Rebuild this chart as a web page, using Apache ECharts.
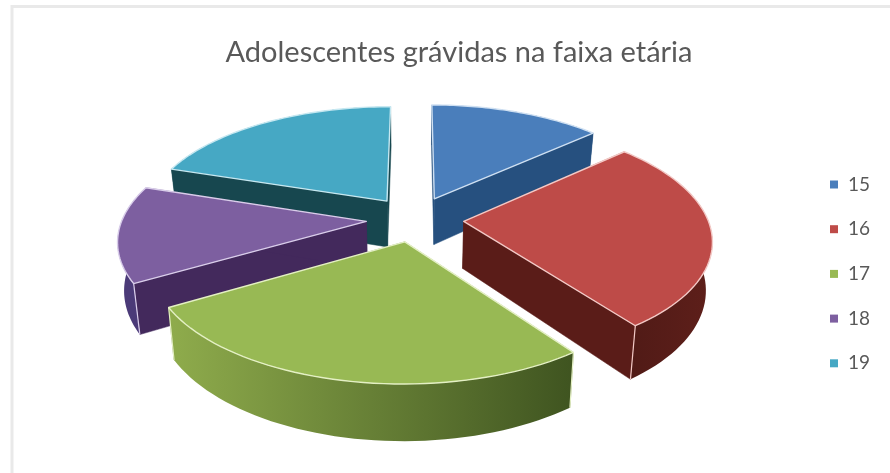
<!DOCTYPE html>
<html>
<head>
<meta charset="utf-8">
<style>html,body{margin:0;padding:0;background:#fff}#chart{width:890px;height:473px}</style>
<script src="https://cdn.jsdelivr.net/npm/echarts@6/dist/echarts.min.js"></script>
</head>
<body>
<div id="chart"></div>
<script>
// Age groups and their share of pregnant adolescents (%)
const ages = ['15', '16', '17', '18', '19'];
const shares = [13.3, 26.6, 26.7, 13.4, 20.0];

const topColors = ['#4a7ebb', '#be4b48', '#98b954', '#7d5fa0', '#46a8c4'];
const wallColors = ['#26507f', '#5a1c18', '#4a5f26', '#43295c', '#17474f'];
const arcColors = [
  ['#26507f', '#26507f'],
  ['#4f1a16', '#5e1f1a'],
  ['#8fac4c', '#3f5420'],
  ['#4b3a78', '#4b3a78'],
  ['#17474f', '#17474f']
];
const edgeColors = ['#cfe0f2', '#f3c9c6', '#e4f0c4', '#d9cdea', '#c6e8f1'];
// Paint order, from the back of the pie to the front
const paintOrder = { '15': 2, '19': 3, '16': 4, '18': 5, '17': 6 };

// Tilted pie projection: plane units are pie radii, nearer points scale up
const view = { cx: 415, cy: 219, scaleX: 244, scaleY: 113.4, persp: 0.149, depth: 47, shrink: 0.978, explode: 0.2 };

function project(X, Y, lowered) {
  const w = 1 - view.persp * Y;
  const sx = view.scaleX * X / w;
  const sy = view.scaleY * Y / w;
  if (lowered) return [view.cx + sx * view.shrink, view.cy + sy + view.depth / w];
  return [view.cx + sx, view.cy + sy];
}

const total = shares.reduce((a, b) => a + b, 0);
const spans = [];
shares.reduce((start, v) => {
  const end = start + v / total * Math.PI * 2;
  spans.push([start, end]);
  return end;
}, 0);

function sliceShapes(i) {
  const [a0, a1] = spans[i];
  const mid = (a0 + a1) / 2;
  const ox = view.explode * Math.sin(mid);
  const oy = -view.explode * Math.cos(mid);
  const steps = 48;
  const rim = [];
  for (let k = 0; k <= steps; k++) {
    const a = a0 + (a1 - a0) * k / steps;
    rim.push([ox + Math.sin(a), oy - Math.cos(a)]);
  }
  const topRim = rim.map(p => project(p[0], p[1], false));
  const lowRim = rim.map(p => project(p[0], p[1], true));
  const apexTop = project(ox, oy, false);
  const apexLow = project(ox, oy, true);
  const edge = edgeColors[i];
  const poly = (points, style, extra) => Object.assign({ type: 'polygon', shape: { points }, style }, extra || {});
  const wall = (t, l) => poly([apexTop, t, l, apexLow], { fill: wallColors[i], stroke: wallColors[i], lineWidth: 0.5 });
  const children = [
    wall(topRim[0], lowRim[0]),
    wall(topRim[steps], lowRim[steps]),
    poly(topRim.concat(lowRim.slice().reverse()), {
      fill: new echarts.graphic.LinearGradient(0, 0, 1, 0, [
        { offset: 0, color: arcColors[i][0] },
        { offset: 1, color: arcColors[i][1] }
      ])
    })
  ];
  // Vertical highlights on the corners facing the viewer
  [0, steps].forEach(k => {
    if (rim[k][1] > oy) {
      children.push({ type: 'line', shape: { x1: topRim[k][0], y1: topRim[k][1], x2: lowRim[k][0], y2: lowRim[k][1] }, style: { stroke: edge, lineWidth: 1.2 } });
    }
  });
  children.push(poly([apexTop].concat(topRim), { fill: topColors[i], stroke: edge, lineWidth: 1.4, lineJoin: 'round' }));
  return { type: 'group', children };
}

const chart = echarts.init(document.getElementById('chart'), null, { renderer: 'canvas' });
chart.setOption({
  animation: false,
  backgroundColor: '#ffffff',
  title: {
    text: 'Adolescentes grávidas na faixa etária',
    left: 454, top: 33, textAlign: 'center',
    textStyle: { fontFamily: 'Lato', fontSize: 29, fontWeight: 'normal', color: '#595959' }
  },
  legend: {
    orient: 'vertical', left: 825, top: 170,
    itemWidth: 8, itemHeight: 8, itemGap: 25.7, icon: 'rect',
    data: ages,
    textStyle: { fontFamily: 'Lato', fontSize: 19, color: '#595959', padding: [0, 0, 0, 5] }
  },
  graphic: [{
    type: 'rect', silent: true, z: -1,
    shape: { x: 12, y: 6.5, width: 900, height: 500 },
    style: { fill: '#fff', stroke: '#e9e9e9', lineWidth: 3 }
  }],
  series: ages.map((age, i) => ({
    type: 'custom',
    name: age,
    coordinateSystem: 'none',
    z: paintOrder[age],
    itemStyle: { color: topColors[i] },
    data: [shares[i]],
    renderItem: () => sliceShapes(i)
  }))
});
</script>
</body>
</html>
